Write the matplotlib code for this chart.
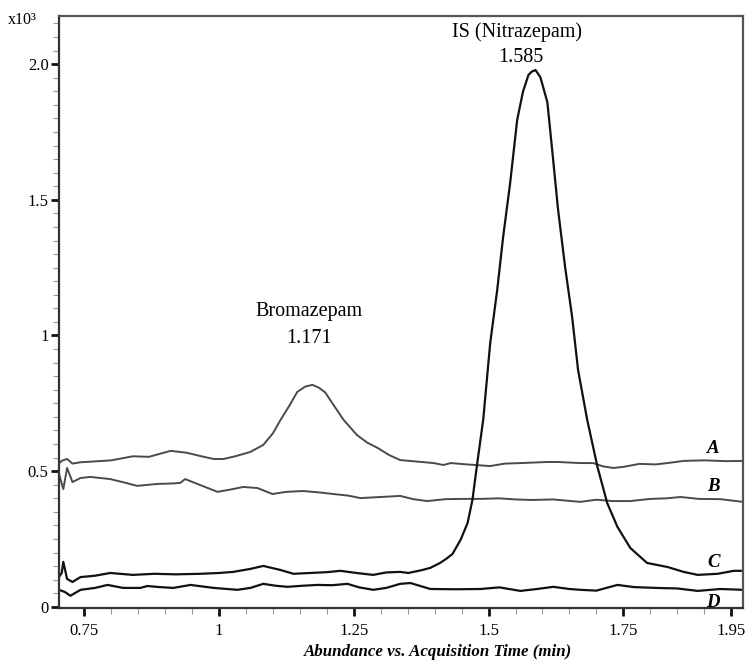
import numpy as np
import matplotlib
matplotlib.use('Agg')
import matplotlib.pyplot as plt
from matplotlib.ticker import MultipleLocator, FixedLocator

plt.rcParams['font.family'] = ['Liberation Serif', 'DejaVu Serif']

# trace A (gray, bromazepam peak)
a_t = [0.703, 0.71, 0.718, 0.728, 0.743, 0.76, 0.80, 0.84, 0.87, 0.91, 0.94, 0.965, 0.99, 1.008,
       1.03, 1.058, 1.082, 1.10, 1.114, 1.13, 1.145, 1.16, 1.173, 1.185, 1.197, 1.212, 1.231, 1.256,
       1.275, 1.294, 1.315, 1.336, 1.37, 1.398, 1.416, 1.43, 1.46, 1.503, 1.53, 1.56, 1.609, 1.628,
       1.67, 1.694, 1.712, 1.731, 1.75, 1.78, 1.81, 1.832, 1.862, 1.90, 1.94, 1.972]
a_y = [0.530, 0.540, 0.545, 0.528, 0.533, 0.535, 0.540, 0.555, 0.553, 0.575, 0.568, 0.556, 0.545, 0.545,
       0.555, 0.571, 0.597, 0.640, 0.689, 0.740, 0.792, 0.812, 0.818, 0.808, 0.790, 0.745, 0.689, 0.633,
       0.605, 0.586, 0.560, 0.541, 0.535, 0.530, 0.523, 0.530, 0.525, 0.519, 0.528, 0.530, 0.534, 0.534,
       0.530, 0.530, 0.518, 0.512, 0.516, 0.527, 0.525, 0.530, 0.538, 0.540, 0.537, 0.538]

# trace B (gray blank)
b_t = [0.703, 0.711, 0.718, 0.728, 0.743, 0.761, 0.798, 0.825, 0.848, 0.885, 0.915, 0.928, 0.937, 0.965,
       0.997, 1.02, 1.045, 1.071, 1.099, 1.125, 1.156, 1.185, 1.212, 1.24, 1.262, 1.30, 1.336, 1.36,
       1.386, 1.42, 1.45, 1.485, 1.52, 1.55, 1.58, 1.62, 1.67, 1.70, 1.73, 1.763, 1.80, 1.83, 1.856,
       1.89, 1.93, 1.972]
b_y = [0.490, 0.434, 0.512, 0.460, 0.475, 0.479, 0.471, 0.458, 0.446, 0.453, 0.455, 0.457, 0.471, 0.449,
       0.424, 0.432, 0.442, 0.438, 0.416, 0.424, 0.427, 0.422, 0.416, 0.410, 0.401, 0.405, 0.409, 0.397,
       0.390, 0.397, 0.398, 0.398, 0.400, 0.396, 0.394, 0.396, 0.387, 0.395, 0.390, 0.390, 0.398, 0.400,
       0.405, 0.398, 0.397, 0.387]

# trace C (black, IS nitrazepam peak)
c_t = [0.703, 0.708, 0.711, 0.718, 0.728, 0.743, 0.77, 0.798, 0.84, 0.88, 0.92, 0.965, 1.0, 1.026,
       1.058, 1.082, 1.114, 1.138, 1.169, 1.20, 1.225, 1.255, 1.286, 1.31, 1.336, 1.351, 1.375, 1.392,
       1.41, 1.422, 1.433, 1.448, 1.461, 1.47, 1.479, 1.49, 1.503, 1.516, 1.527, 1.54, 1.553, 1.564,
       1.574, 1.58, 1.587, 1.596, 1.609, 1.618, 1.629, 1.642, 1.655, 1.666, 1.683, 1.702, 1.72, 1.739,
       1.763, 1.794, 1.832, 1.862, 1.888, 1.925, 1.955, 1.972]
c_y = [0.110, 0.125, 0.166, 0.103, 0.092, 0.110, 0.115, 0.125, 0.118, 0.122, 0.120, 0.122, 0.125, 0.129,
       0.140, 0.151, 0.136, 0.122, 0.125, 0.128, 0.133, 0.125, 0.118, 0.127, 0.129, 0.125, 0.135, 0.144,
       0.162, 0.178, 0.195, 0.247, 0.309, 0.394, 0.530, 0.689, 0.972, 1.168, 1.363, 1.562, 1.794, 1.900,
       1.960, 1.972, 1.978, 1.952, 1.860, 1.683, 1.462, 1.252, 1.068, 0.873, 0.689, 0.516, 0.383, 0.295,
       0.217, 0.162, 0.147, 0.129, 0.118, 0.122, 0.133, 0.133]

# trace D (black blank)
d_t = [0.703, 0.714, 0.724, 0.743, 0.77, 0.793, 0.822, 0.854, 0.867, 0.89, 0.915, 0.947, 0.99, 1.034,
       1.058, 1.082, 1.105, 1.127, 1.155, 1.182, 1.21, 1.238, 1.26, 1.286, 1.31, 1.336, 1.355, 1.392,
       1.44, 1.485, 1.52, 1.559, 1.59, 1.62, 1.65, 1.67, 1.70, 1.739, 1.77, 1.81, 1.85, 1.888, 1.93, 1.972]
d_y = [0.063, 0.055, 0.041, 0.063, 0.070, 0.081, 0.070, 0.070, 0.077, 0.073, 0.070, 0.081, 0.070, 0.063,
       0.070, 0.085, 0.078, 0.074, 0.078, 0.081, 0.080, 0.085, 0.072, 0.063, 0.070, 0.085, 0.088, 0.066,
       0.065, 0.066, 0.072, 0.059, 0.066, 0.074, 0.066, 0.063, 0.060, 0.081, 0.073, 0.070, 0.068, 0.059,
       0.066, 0.063]

x_ticks = [0.75, 1.0, 1.25, 1.5, 1.75, 1.95]
x_tick_labels = ['0.75', '1', '1.25', '1.5', '1.75', '1.95']
y_ticks = [0, 0.5, 1.0, 1.5, 2.0]
y_tick_labels = ['0', '0.5', '1', '1.5', '2.0']

fig = plt.figure(figsize=(7.48, 6.61), dpi=100)
ax = fig.add_axes([59/748, 53/661, (743-59)/748, (608-15.5)/661])

ax.plot(a_t, a_y, color='#4a4a4a', lw=1.4)
ax.plot(b_t, b_y, color='#4a4a4a', lw=1.4)
ax.plot(c_t, c_y, color='#111111', lw=1.6)
ax.plot(d_t, d_y, color='#111111', lw=1.6)

ax.set_xlim(0.703, 1.972)
ax.set_ylim(-0.004, 2.179)

ax.xaxis.set_major_locator(FixedLocator(x_ticks))
ax.set_xticklabels(x_tick_labels)
ax.yaxis.set_major_locator(FixedLocator(y_ticks))
ax.set_yticklabels(y_tick_labels)
ax.xaxis.set_minor_locator(MultipleLocator(0.05))
ax.yaxis.set_minor_locator(MultipleLocator(0.05))

ax.tick_params(axis='both', which='major', direction='out', length=6, width=2,
               color='#111111', labelsize=12, pad=1.5)
ax.tick_params(axis='both', which='minor', direction='out', length=4, width=0.8, color='#999999')
ax.tick_params(axis='x', which='major', pad=5)

for side in ['left', 'bottom']:
    ax.spines[side].set_color('#333333')
    ax.spines[side].set_linewidth(1.6)
for side in ['top', 'right']:
    ax.spines[side].set_color('#555555')
    ax.spines[side].set_linewidth(1.6)

ax.text(1.166, 1.087, 'Bromazepam', ha='center', va='center', fontsize=14.5)
ax.text(1.166, 0.99, '1.171', ha='center', va='center', fontsize=14.5)
ax.text(1.553, 2.118, 'IS (Nitrazepam)', ha='center', va='center', fontsize=14.5)
ax.text(1.559, 2.026, '1.585', ha='center', va='center', fontsize=14.5)

for lab, yy in zip(['A', 'B', 'C', 'D'], [0.582, 0.442, 0.162, 0.018]):
    ax.text(1.917, yy, lab, ha='center', va='center', fontsize=13.5,
            fontweight='bold', fontstyle='italic')

fig.text(8/748, 1 - 20/661, 'x10³', ha='left', va='center', fontsize=11.5)
fig.text(438/748, 9/661, 'Abundance vs. Acquisition Time (min)', ha='center', va='center',
         fontsize=12.2, fontweight='bold', fontstyle='italic')

fig.savefig('out.png', dpi=100)
